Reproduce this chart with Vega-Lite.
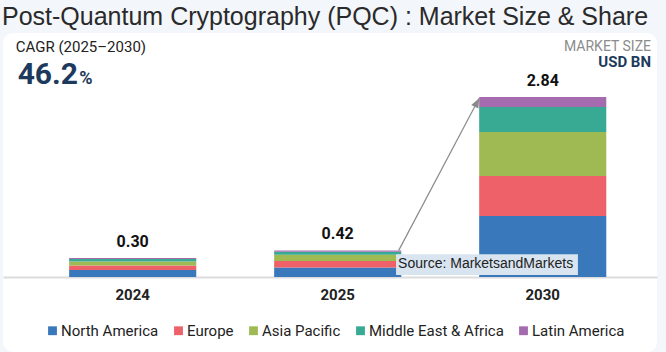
{
  "$schema": "https://vega.github.io/schema/vega-lite/v6.json",
  "width": 654,
  "height": 319,
  "autosize": {"type": "none"},
  "padding": {"left": 3, "top": 33, "right": 9, "bottom": 0},
  "background": "#f3f6fa",
  "view": {"fill": "#ffffff", "stroke": null, "cornerRadius": 10},
  "title": {
    "text": "Post-Quantum Cryptography (PQC) : Market Size & Share",
    "anchor": "start",
    "font": "Liberation Sans",
    "fontSize": 25,
    "fontWeight": "normal",
    "color": "#2a2a2a",
    "offset": 3,
    "dx": -1
  },
  "datasets": {
    "market": [
      {"year": "2024", "region": "North America", "rank": 1, "value": 0.109},
      {"year": "2024", "region": "Europe", "rank": 2, "value": 0.072},
      {"year": "2024", "region": "Asia Pacific", "rank": 3, "value": 0.062},
      {"year": "2024", "region": "Middle East & Africa", "rank": 4, "value": 0.041},
      {"year": "2024", "region": "Latin America", "rank": 5, "value": 0.016},
      {"year": "2025", "region": "North America", "rank": 1, "value": 0.149},
      {"year": "2025", "region": "Europe", "rank": 2, "value": 0.104},
      {"year": "2025", "region": "Asia Pacific", "rank": 3, "value": 0.098},
      {"year": "2025", "region": "Middle East & Africa", "rank": 4, "value": 0.047},
      {"year": "2025", "region": "Latin America", "rank": 5, "value": 0.022},
      {"year": "2030", "region": "North America", "rank": 1, "value": 0.963},
      {"year": "2030", "region": "Europe", "rank": 2, "value": 0.632},
      {"year": "2030", "region": "Asia Pacific", "rank": 3, "value": 0.694},
      {"year": "2030", "region": "Middle East & Africa", "rank": 4, "value": 0.393},
      {"year": "2030", "region": "Latin America", "rank": 5, "value": 0.158}
    ],
    "totals": [
      {"year": "2024", "total": 0.30},
      {"year": "2025", "total": 0.42},
      {"year": "2030", "total": 2.84}
    ]
  },
  "layer": [
    {
      "data": {"name": "market"},
      "mark": {"type": "bar"},
      "encoding": {
        "x": {
          "field": "year",
          "type": "ordinal",
          "scale": {"paddingInner": 0.38, "paddingOuter": 0.285, "align": 0.566},
          "axis": {
            "orient": "bottom",
            "offset": -75,
            "title": null,
            "labelAngle": 0,
            "ticks": false,
            "domainColor": "#dcdcdc",
            "domainWidth": 2,
            "labelFont": "Roboto",
            "labelFontSize": 15,
            "labelFontWeight": "bold",
            "labelColor": "#222222",
            "labelPadding": 10
          }
        },
        "y": {
          "field": "value",
          "type": "quantitative",
          "stack": "zero",
          "scale": {"domain": [-1.183, 3.849], "nice": false, "zero": false},
          "axis": null
        },
        "color": {
          "field": "region",
          "type": "nominal",
          "scale": {
            "domain": ["North America", "Europe", "Asia Pacific", "Middle East & Africa", "Latin America"],
            "range": ["#3978ba", "#ee6168", "#9fba53", "#38a992", "#a46cae"]
          },
          "legend": {
            "orient": "none",
            "legendX": 42,
            "legendY": 290,
            "direction": "horizontal",
            "title": null,
            "symbolType": "square",
            "symbolSize": 78,
            "symbolStrokeWidth": 0,
            "labelFont": "Roboto",
            "labelFontSize": 15,
            "labelColor": "#222222",
            "labelOffset": 1,
            "columnPadding": 12
          }
        },
        "order": {"field": "rank", "type": "quantitative", "sort": "ascending"}
      }
    },
    {
      "data": {"name": "totals"},
      "mark": {"type": "text", "font": "Roboto", "fontSize": 16, "fontWeight": "bold", "color": "#111111", "baseline": "alphabetic", "dy": -11},
      "encoding": {
        "x": {"field": "year", "type": "ordinal"},
        "y": {"field": "total", "type": "quantitative"},
        "text": {"field": "total", "type": "quantitative", "format": ".2f"}
      }
    },
    {
      "data": {"values": [{}]},
      "mark": {"type": "rule", "color": "#8a8a8a", "strokeWidth": 1.2},
      "encoding": {
        "x": {"datum": "2025", "bandPosition": 0.98},
        "y": {"datum": 0.42},
        "x2": {"datum": "2030", "bandPosition": 0},
        "y2": {"datum": 2.82}
      }
    },
    {
      "data": {"values": [{}]},
      "mark": {"type": "point", "shape": "M0,0L-0.5,1.2L0.5,1.2Z", "filled": true, "color": "#8a8a8a", "opacity": 1, "size": 256, "angle": 27},
      "encoding": {
        "x": {"datum": "2030", "bandPosition": 0},
        "y": {"datum": 2.82}
      }
    },
    {
      "data": {"values": [{}]},
      "mark": {"type": "rect", "color": "#d8e4f0"},
      "encoding": {
        "x": {"datum": "2025", "bandPosition": 0.959},
        "x2": {"datum": "2030", "bandPosition": 0.777},
        "y": {"datum": 0.36},
        "y2": {"datum": 0.03}
      }
    },
    {
      "data": {"values": [{}]},
      "mark": {"type": "text", "font": "Liberation Sans", "fontSize": 14, "color": "#222222", "align": "left", "baseline": "middle"},
      "encoding": {
        "x": {"datum": "2025", "bandPosition": 0.975},
        "y": {"datum": 0.2},
        "text": {"value": "Source: MarketsandMarkets"}
      }
    },
    {
      "data": {"values": [{}]},
      "mark": {"type": "text", "font": "Roboto", "fontSize": 15, "color": "#222222", "align": "left", "baseline": "alphabetic"},
      "encoding": {
        "x": {"datum": "2024", "bandPosition": -0.42},
        "y": {"datum": 3.55},
        "text": {"value": "CAGR (2025–2030)"}
      }
    },
    {
      "data": {"values": [{}]},
      "mark": {"type": "text", "font": "Roboto", "fontSize": 30, "fontWeight": "bold", "color": "#1d3a5c", "align": "left", "baseline": "alphabetic"},
      "encoding": {
        "x": {"datum": "2024", "bandPosition": -0.405},
        "y": {"datum": 3.04},
        "text": {"value": "46.2"}
      }
    },
    {
      "data": {"values": [{}]},
      "mark": {"type": "text", "font": "Roboto", "fontSize": 18, "fontWeight": "bold", "color": "#1d3a5c", "align": "left", "baseline": "alphabetic"},
      "encoding": {
        "x": {"datum": "2024", "bandPosition": 0.08},
        "y": {"datum": 3.04},
        "text": {"value": "%"}
      }
    },
    {
      "data": {"values": [{}]},
      "mark": {"type": "text", "font": "Roboto", "fontSize": 14, "color": "#8c8c8c", "align": "right", "baseline": "alphabetic"},
      "encoding": {
        "x": {"datum": "2030", "bandPosition": 1.352},
        "y": {"datum": 3.565},
        "text": {"value": "MARKET SIZE"}
      }
    },
    {
      "data": {"values": [{}]},
      "mark": {"type": "text", "font": "Roboto", "fontSize": 15, "fontWeight": "bold", "color": "#1d3a5c", "align": "right", "baseline": "alphabetic"},
      "encoding": {
        "x": {"datum": "2030", "bandPosition": 1.352},
        "y": {"datum": 3.313},
        "text": {"value": "USD BN"}
      }
    }
  ]
}
